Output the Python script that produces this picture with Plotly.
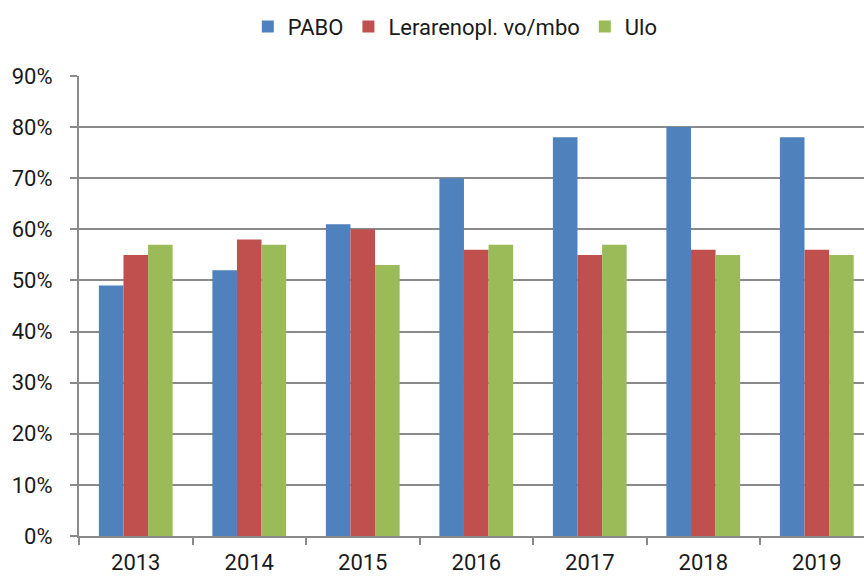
import plotly.graph_objects as go

years = ["2013", "2014", "2015", "2016", "2017", "2018", "2019"]
pabo = [49, 52, 61, 70, 78, 80, 78]
lerarenopl = [55, 58, 60, 56, 55, 56, 56]
ulo = [57, 57, 53, 57, 57, 55, 55]

series = [
    ("PABO", pabo, "#4F81BD"),
    ("Lerarenopl. vo/mbo", lerarenopl, "#C0504D"),
    ("Ulo", ulo, "#9BBB59"),
]

fig = go.Figure()
for name, vals, color in series:
    fig.add_trace(go.Bar(
        x=years, y=vals, name=name,
        marker=dict(color=color, line=dict(width=0)),
    ))

tick_font = dict(family="Roboto, sans-serif", size=22, color="#1a1a1a")
grid = "#8a8a8a"

fig.update_layout(
    width=864, height=578,
    margin=dict(l=79, r=0, t=76, b=42),
    paper_bgcolor="white", plot_bgcolor="white",
    barmode="group", bargap=0.35, bargroupgap=0,
    font=tick_font,
    showlegend=True,
    legend=dict(
        orientation="h", xref="container", yref="container",
        x=0.527, xanchor="center", y=0.99, yanchor="top",
        font=dict(family="Roboto, sans-serif", size=22, color="#1a1a1a"),
        itemwidth=30, traceorder="normal",
    ),
    xaxis=dict(
        type="category", range=[-0.5, 6.416],
        showline=True, linecolor=grid, linewidth=2,
        ticks="outside", tickson="boundaries", ticklen=7,
        tickcolor=grid, tickwidth=2, showgrid=False,
        tickfont=tick_font, ticklabelstandoff=6,
    ),
    yaxis=dict(
        range=[0, 90], dtick=10, ticksuffix="%",
        showline=True, linecolor=grid, linewidth=2,
        ticks="outside", ticklen=7, tickcolor=grid, tickwidth=2,
        showgrid=True, gridcolor=grid, gridwidth=2,
        zeroline=False, tickfont=tick_font, ticklabelstandoff=13,
    ),
)

fig.write_html("out.html")
